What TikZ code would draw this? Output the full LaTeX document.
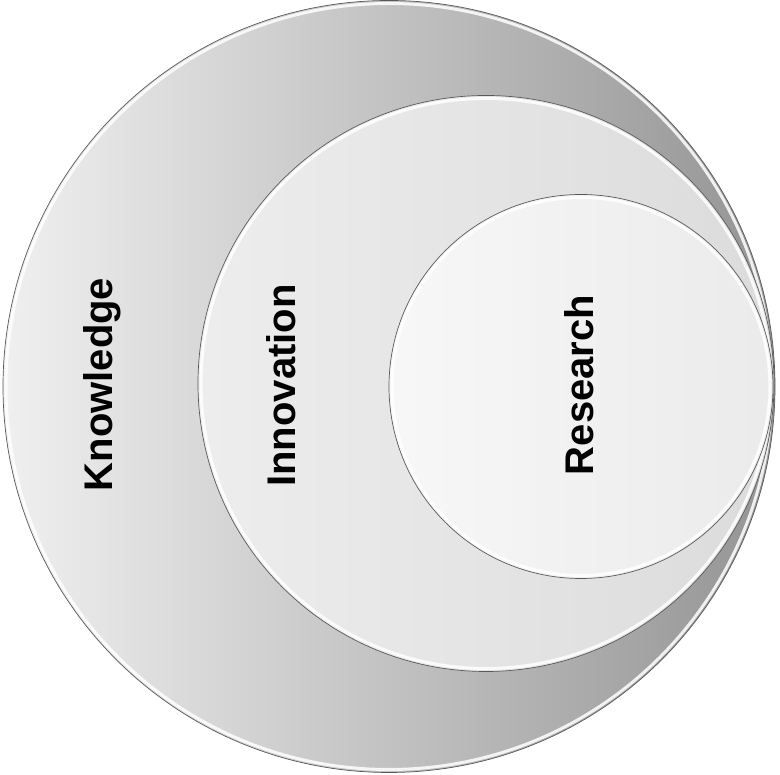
\documentclass[tikz,border=0pt]{standalone}
\usepackage{fontspec}
\setmainfont{Liberation Sans}
\tikzset{
  ring/.style={draw=black!65,line width=0.7pt},
  rim/.style={draw=white,line width=3pt,opacity=0.85},
  label/.style={rotate=90,anchor=base,inner sep=0pt,font=\fontsize{40}{48}\selectfont\bfseries}
}
\begin{document}
\begin{tikzpicture}[x=1pt,y=1pt]
			\useasboundingbox (0,0) rectangle (780,775);
			\coordinate (C1) at (389,388.5);
			\coordinate (C2) at (486,391.5);
			\coordinate (C3) at (581,388.5);
			% outer circle
			\shade[left color=black!6,middle color=black!11,right color=black!42] (C1) circle [radius=386];
			\draw[rim] (C1) circle [radius=383];
			\draw[ring] (C1) circle [radius=386];
			% middle circle
			\shade[left color=black!7,right color=black!14] (C2) circle [radius=288];
			\draw[rim] (C2) circle [radius=285];
			\draw[ring] (C2) circle [radius=288];
			% inner circle
			\shade[left color=black!3,right color=black!8] (C3) circle [radius=192];
			\draw[rim] (C3) circle [radius=189];
			\draw[ring] (C3) circle [radius=192];
			\node[label] (know) at (112,390.5) {Knowledge};
			\node[label] (inno) at (295,389.5) {Innovation};
			\node[label] (res) at (593,390) {Research};
		\end{tikzpicture}
\end{document}
